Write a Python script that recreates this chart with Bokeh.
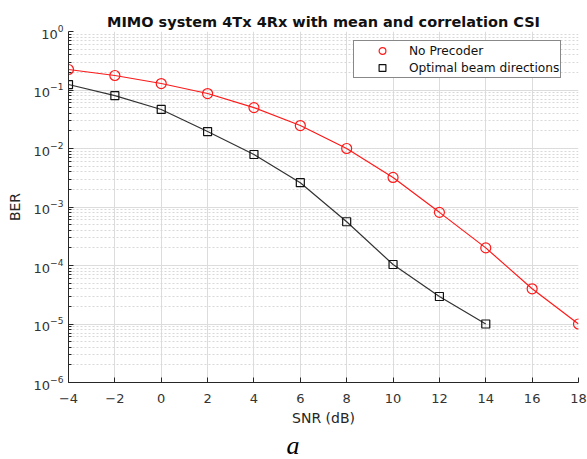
from bokeh.plotting import figure
from bokeh.models import (FixedTicker, Legend, LegendItem, Title, LogTickFormatter)
from bokeh.embed import file_html
from bokeh.resources import INLINE

# ---- data ----
snr = [-4, -2, 0, 2, 4, 6, 8, 10, 12, 14, 16, 18]
ber_no_precoder = [0.224, 0.177, 0.129, 0.087, 0.050, 0.0247, 0.0100, 0.0032,
                   0.00081, 0.00020, 0.000040, 0.000010]
snr_opt = [-4, -2, 0, 2, 4, 6, 8, 10, 12, 14]
ber_optimal = [0.124, 0.080, 0.0465, 0.0195, 0.0079, 0.0026, 0.00056,
               0.000104, 0.0000295, 0.000010]
x_ticks = [-4, -2, 0, 2, 4, 6, 8, 10, 12, 14, 16, 18]
y_exponents = [-6, -5, -4, -3, -2, -1, 0]
title_text = "MIMO system 4Tx 4Rx with mean and correlation CSI"
x_label = "SNR (dB)"
y_label = "BER"
legend_labels = ["No Precoder", "Optimal beam directions"]
caption = "a"

FONT = "DejaVu Sans"
AX = "#262626"

p = figure(width=587, height=459, output_backend="svg", toolbar_location=None,
           x_range=(-4, 18), y_range=(1e-6, 1), y_axis_type="log",
           min_border_left=68, min_border_right=9, min_border_top=31,
           min_border_bottom=76)
p.outline_line_color = None
p.background_fill_color = "white"
p.border_fill_color = "white"

p.title.text = title_text
p.title.align = "center"
p.title.text_font = FONT
p.title.text_font_size = "14.5px"
p.title.text_font_style = "bold"
p.title.text_color = "#111111"
p.title.standoff = 4

# axes
y_major = [10.0 ** e for e in y_exponents]
y_minor = [m * 10.0 ** e for e in y_exponents[:-1] for m in range(2, 10)]
p.xaxis.ticker = FixedTicker(ticks=x_ticks)
p.yaxis.ticker = FixedTicker(ticks=y_major, minor_ticks=y_minor)
p.yaxis.formatter = LogTickFormatter()

for ax in (p.xaxis[0], p.yaxis[0]):
    ax.axis_line_color = AX
    ax.axis_line_width = 1
    ax.major_tick_line_color = AX
    ax.minor_tick_line_color = AX
    ax.major_tick_in = 5
    ax.major_tick_out = 0
    ax.minor_tick_in = 3
    ax.minor_tick_out = 0
    ax.major_label_text_font = FONT
    ax.major_label_text_font_size = "13px"
    ax.major_label_text_color = "#333333"
    ax.axis_label_text_font = FONT
    ax.axis_label_text_font_size = "14px"
    ax.axis_label_text_font_style = "normal"
    ax.axis_label_text_color = "#262626"
p.xaxis.minor_tick_line_color = None
p.xaxis.axis_label = x_label
p.yaxis.axis_label = y_label
p.xaxis.major_label_standoff = 11
p.xaxis.axis_label_standoff = 4
p.yaxis.axis_label_standoff = 8

# grids
p.xgrid.grid_line_color = "#dcdcdc"
p.ygrid.grid_line_color = "#dcdcdc"
p.ygrid.minor_grid_line_color = "#d8d8d8"
p.ygrid.minor_grid_line_dash = "2 2"
p.ygrid.ticker = p.yaxis[0].ticker

# series
l1 = p.line(snr, ber_no_precoder, line_color="#ff1a1a", line_width=1.2)
s1 = p.scatter(snr, ber_no_precoder, marker="circle", size=10,
               fill_color=None, line_color="#ff1a1a", line_width=1.2)
l2 = p.line(snr_opt, ber_optimal, line_color="#333333", line_width=1.2)
s2 = p.scatter(snr_opt, ber_optimal, marker="square", size=8,
               fill_color=None, line_color="#111111", line_width=1.2)

legend = Legend(items=[LegendItem(label=legend_labels[0], renderers=[s1]),
                       LegendItem(label=legend_labels[1], renderers=[s2])],
                location=(285, 304))
legend.border_line_color = "#111111"
legend.border_line_width = 1
legend.background_fill_color = "white"
legend.background_fill_alpha = 1
legend.label_text_font = FONT
legend.label_text_font_size = "12.2px"
legend.label_text_color = "#111111"
legend.glyph_width = 54
legend.glyph_height = 17
legend.label_height = 14
legend.label_standoff = 0
legend.spacing = 0
legend.padding = 1
legend.margin = 0
p.add_layout(legend)

cap = Title(text=caption, align="left", offset=218, standoff=0,
            text_font="Liberation Serif", text_font_style="italic",
            text_font_size="26px", text_color="black")
p.add_layout(cap, "below")

open("out.html", "w").write(file_html(p, INLINE))
